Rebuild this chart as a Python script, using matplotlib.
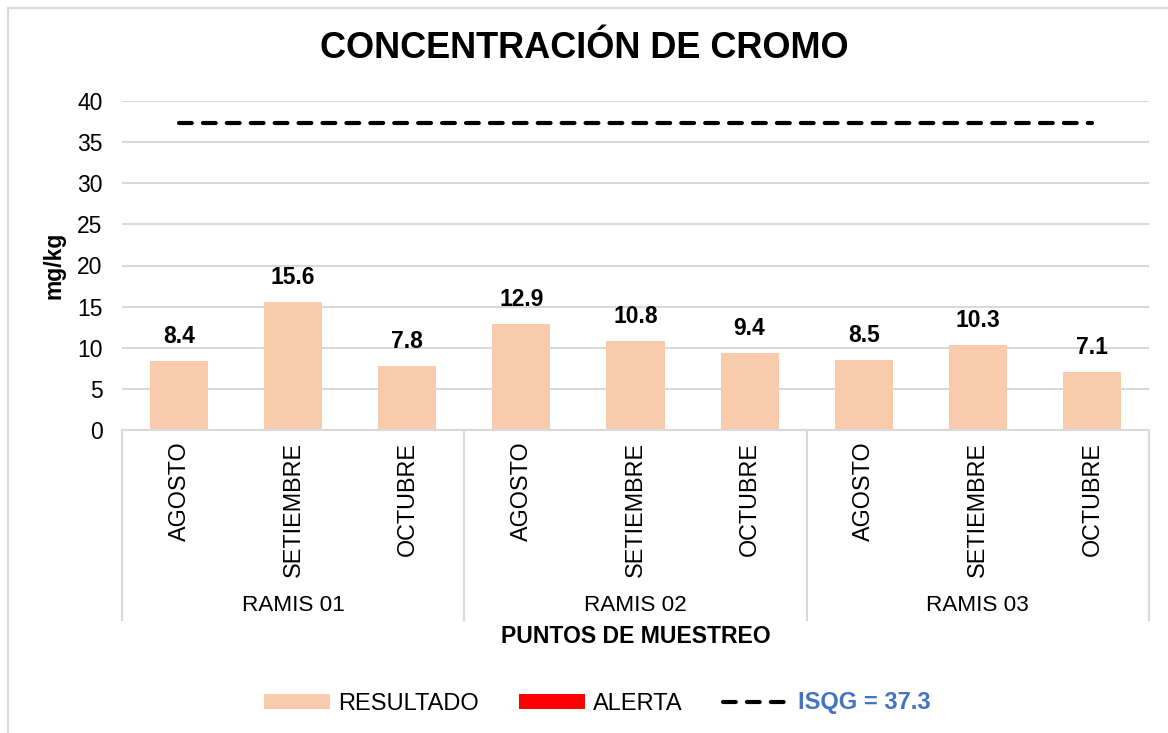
import matplotlib.pyplot as plt
import matplotlib.transforms as mtransforms
from matplotlib.patches import Patch, Rectangle
from matplotlib.lines import Line2D

plt.rcParams['font.family'] = ['Liberation Sans', 'DejaVu Sans']

# data
points = ['RAMIS 01', 'RAMIS 02', 'RAMIS 03']
months = ['AGOSTO', 'SETIEMBRE', 'OCTUBRE']
resultado = [8.4, 15.6, 7.8, 12.9, 10.8, 9.4, 8.5, 10.3, 7.1]
isqg = 37.3
yticks = [0, 5, 10, 15, 20, 25, 30, 35, 40]

bar_color = '#F8CBAD'
grid_color = '#D9D9D9'

fig = plt.figure(figsize=(11.68, 7.33), dpi=100)
ax = fig.add_axes([122 / 1168, 1 - 430 / 733, 1027 / 1168, 329 / 733])

x = list(range(len(resultado)))
ax.bar(x, resultado, width=0.51, color=bar_color, zorder=2)
for xi, v in zip(x, resultado):
    ax.annotate(f'{v:.1f}', (xi, v), xytext=(0, 17.5), textcoords='offset points',
                ha='center', va='center', fontsize=16.5, fontweight='bold')

# ISQG line
ax.plot([x[0], x[-1]], [isqg, isqg], color='black', lw=3,
        linestyle=(0, (3.07, 2.67)), dash_capstyle='round', zorder=3)

ax.set_xlim(-0.5, len(resultado) - 0.5)
ax.set_ylim(0, 40)
ax.set_yticks(yticks)
ax.yaxis.grid(True, color=grid_color, lw=1.5, zorder=0)
ax.set_axisbelow(True)
ax.tick_params(axis='y', length=0, pad=14, labelsize=16.5)
ax.set_xticks([])
for s in ['top', 'right', 'left']:
    ax.spines[s].set_visible(False)
ax.spines['bottom'].set_color(grid_color)
ax.spines['bottom'].set_linewidth(1.5)

trans = mtransforms.blended_transform_factory(ax.transData, ax.transAxes)
# group dividers
for b in [-0.5, 2.5, 5.5, 8.5]:
    ax.plot([b, b], [0, -0.578], transform=trans, color=grid_color, lw=1.5, clip_on=False)

for i, xi in enumerate(x):
    ax.text(xi, -0.036, months[i % 3], transform=trans, rotation=90,
            ha='center', va='top', fontsize=16.8)
for g, name in enumerate(points):
    ax.text(g * 3 + 1, -0.532, name, transform=trans, ha='center', va='center', fontsize=16.2)

ax.text(0.5, -0.629, 'PUNTOS DE MUESTREO', transform=ax.transAxes,
        ha='center', va='center', fontsize=16.6, fontweight='bold')
ax.set_ylabel('mg/kg', fontsize=16.5, fontweight='bold', labelpad=8)

fig.text(0.5, 1 - 49 / 733, 'CONCENTRACIÓN DE CROMO', ha='center', va='center',
         fontsize=26, fontweight='bold')

# legend
handles = [
    Patch(facecolor=bar_color, edgecolor='none'),
    Patch(facecolor='#FF0000', edgecolor='none'),
    Line2D([0], [0], color='black', lw=3, linestyle=(0, (3.07, 2.67)), dash_capstyle='round'),
]
leg = fig.legend(handles, ['RESULTADO', 'ALERTA', 'ISQG = 37.3'], ncol=3,
                 loc='center', bbox_to_anchor=(597 / 1168, 1 - 703 / 733),
                 frameon=False, fontsize=17, handlelength=2.8, handleheight=0.6,
                 columnspacing=1.7, handletextpad=0.35)
leg.get_texts()[2].set_color('#4472C4')
leg.get_texts()[2].set_fontweight('bold')

# chart border
fig.patches.append(Rectangle((8 / 1168, -0.1), 1.2, 1.1 - 8 / 733, transform=fig.transFigure,
                             fill=False, edgecolor=grid_color, lw=1.5))

fig.savefig('out.png', dpi=100)
